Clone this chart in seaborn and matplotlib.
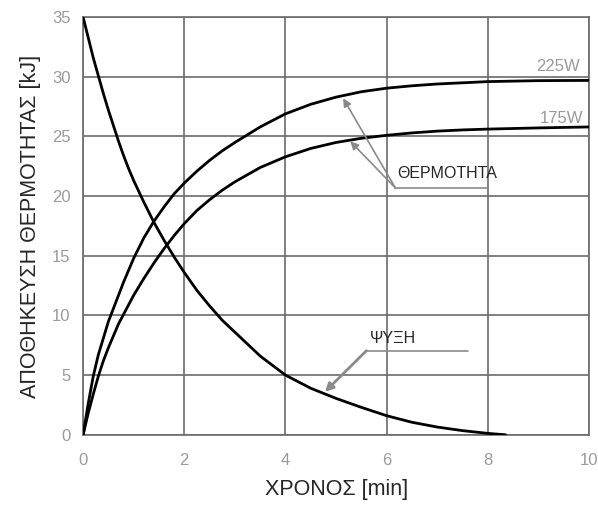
"""
Heat storage vs time chart (ΑΠΟΘΗΚΕΥΣΗ ΘΕΡΜΟΤΗΤΑΣ).
"""

import matplotlib
matplotlib.use("Agg")
import matplotlib.pyplot as plt
import pandas as pd
import seaborn as sns

# ── Data ────────────────────────────────────────────────────────────────────
time_heat = [0, 0.1, 0.2, 0.3, 0.4, 0.5, 0.6, 0.7, 0.8, 0.9, 1.0, 1.2, 1.4, 1.6, 1.8,
             2.0, 2.25, 2.5, 2.75, 3.0, 3.5, 4.0, 4.5, 5.0, 5.5, 6.0, 6.5, 7.0, 7.5,
             8.0, 9.0, 10.0]
heat_225w = [0, 2.6, 4.9, 6.7, 8.1, 9.5, 10.6, 11.7, 12.8, 13.8, 14.8, 16.5, 17.9, 19.1, 20.2,
             21.1, 22.1, 23.0, 23.8, 24.5, 25.8, 26.9, 27.7, 28.3, 28.75, 29.05, 29.25, 29.4, 29.5,
             29.6, 29.68, 29.7]
heat_175w = [0, 1.8, 3.4, 4.9, 6.2, 7.3, 8.3, 9.3, 10.1, 10.9, 11.7, 13.1, 14.4, 15.6, 16.7,
             17.7, 18.8, 19.7, 20.5, 21.2, 22.4, 23.3, 24.0, 24.5, 24.85, 25.1, 25.3, 25.45, 25.55,
             25.62, 25.72, 25.8]

time_cool = [0, 0.1, 0.2, 0.3, 0.4, 0.5, 0.6, 0.7, 0.8, 0.9, 1.0, 1.2, 1.4, 1.6, 1.8,
             2.0, 2.25, 2.5, 2.75, 3.0, 3.5, 4.0, 4.5, 5.0, 5.5, 6.0, 6.5, 7.0, 7.5,
             8.0, 8.35]
heat_cool = [35, 33.3, 31.6, 30.1, 28.6, 27.2, 25.9, 24.6, 23.4, 22.3, 21.3, 19.5, 17.8, 16.3, 14.9,
             13.6, 12.1, 10.8, 9.6, 8.6, 6.6, 5.0, 3.9, 3.05, 2.3, 1.6, 1.05, 0.65, 0.35,
             0.12, 0.0]

x_ticks = [0, 2, 4, 6, 8, 10]
y_ticks = [0, 5, 10, 15, 20, 25, 30, 35]

sns.set_style("white")
plt.rcParams["font.family"] = ["Liberation Sans", "DejaVu Sans"]

GRID = "#6b6b6b"
TICK = "#9a9a9a"
LEAD = "#8a8a8a"

fig = plt.figure(figsize=(5.98, 5.05), dpi=100)
ax = fig.add_axes([0.139, 0.139, 0.846, 0.827])

curves = pd.concat([
    pd.DataFrame({"t": time_heat, "q": heat_225w, "s": "225W"}),
    pd.DataFrame({"t": time_heat, "q": heat_175w, "s": "175W"}),
    pd.DataFrame({"t": time_cool, "q": heat_cool, "s": "cool"}),
])
sns.lineplot(data=curves, x="t", y="q", units="s", estimator=None,
             color="black", lw=2.0, ax=ax, zorder=3)

ax.set_xlim(0, 10)
ax.set_ylim(0, 35)
ax.set_xticks(x_ticks)
ax.set_yticks(y_ticks)
ax.grid(True, color=GRID, lw=1.2)
for sp in ax.spines.values():
    sp.set_color(GRID)
    sp.set_linewidth(1.2)
ax.tick_params(axis="both", length=0, colors=TICK, labelsize=12)
ax.tick_params(axis="x", pad=13)
ax.tick_params(axis="y", pad=9)

ax.set_xlabel("ΧΡΟΝΟΣ [min]", fontsize=15.5, labelpad=8)
ax.set_ylabel("ΑΠΟΘΗΚΕΥΣΗ ΘΕΡΜΟΤΗΤΑΣ [kJ]", fontsize=15.5, labelpad=8)

# Curve labels
ax.text(9.82, 30.25, "225W", color=TICK, fontsize=12, ha="right", va="bottom")
ax.text(9.88, 25.9, "175W", color=TICK, fontsize=12, ha="right", va="bottom")

# ΘΕΡΜΟΤΗΤΑ leader
ax.plot([6.17, 7.98], [20.7, 20.7], color=LEAD, lw=1.2)
for tip in [(5.14, 28.2), (5.28, 24.6)]:
    ax.annotate("", xy=tip, xytext=(6.17, 20.7),
                arrowprops=dict(arrowstyle="-|>", color=LEAD, lw=1.2,
                                mutation_scale=12, shrinkA=0, shrinkB=0))
ax.text(6.2, 21.9, "ΘΕΡΜΟΤΗΤΑ", fontsize=11.5, ha="left", va="center")

# ΨΥΞΗ leader
ax.plot([5.6, 7.6], [7.05, 7.05], color=LEAD, lw=1.2)
ax.annotate("", xy=(4.78, 3.6), xytext=(5.6, 7.05),
            arrowprops=dict(arrowstyle="-|>", color=LEAD, lw=2.0,
                            mutation_scale=12, shrinkA=0, shrinkB=0))
ax.text(5.67, 8.1, "ΨΥΞΗ", fontsize=11.5, ha="left", va="center")

fig.savefig("out.png", dpi=100)
plt.close(fig)
